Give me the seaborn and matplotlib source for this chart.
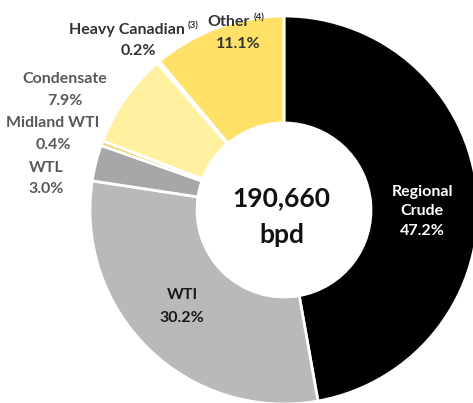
import matplotlib
matplotlib.use("Agg")
import matplotlib.pyplot as plt
import seaborn as sns

sns.set_theme(style="white")
plt.rcParams['font.family'] = ['Lato', 'DejaVu Sans']

# Crude slate (share of throughput, %)
sources = ["Regional Crude", "WTI", "WTL", "Midland WTI", "Condensate", "Heavy Canadian", "Other"]
shares = [47.2, 30.2, 3.0, 0.4, 7.9, 0.2, 11.1]
notes = ["", "", "", "", "", "(3)", "(4)"]
total_bpd = 190660

colors = ["#000000", "#bab9b9", "#a7a7a9", "#e9d66a", "#fff1a0", "#f3df73", "#ffe167"]
text_colors = ["white", "#1a1a1a", "#595959", "#595959", "#595959", "#333333", "#333333"]

H = 403
cx, cy = 284, 210

fig = plt.figure(figsize=(4.73, 4.03), dpi=100)
ax = fig.add_axes([0, 0, 1, 1])
ax.pie(shares, colors=colors, startangle=90, counterclock=False,
       radius=194, center=(cx, H - cy),
       wedgeprops=dict(width=107, edgecolor="white", linewidth=2))
ax.set_xlim(0, 473)
ax.set_ylim(0, H)
ax.set_aspect("equal")
ax.axis("off")

# label anchors in image pixel coords, one per text line
label_pos = {
    "Regional Crude": [(422, 192), (422, 211), (422, 231)],
    "WTI": [(182, 295), (182, 318)],
    "WTL": [(46, 168), (46, 189)],
    "Midland WTI": [(53, 123), (53, 145)],
    "Condensate": [(65, 79), (65, 101)],
    "Heavy Canadian": [(127, 30), (138, 51)],
    "Other": [(229, 22), (238, 44)],
}
fs = 11.5

fig.canvas.draw()
renderer = fig.canvas.get_renderer()
for name, v, note, tc in zip(sources, shares, notes, text_colors):
    pos = label_pos[name]
    lines = name.split(" ") if name == "Regional Crude" else [name]
    lines = lines + [f"{v:.1f}%"]
    texts = []
    for (x, y), s in zip(pos, lines):
        texts.append(ax.text(x, H - y, s, ha="center", va="center", fontsize=fs,
                             fontweight="bold", color=tc))
    if note:
        # small superscript footnote marker after the name
        bb = texts[0].get_window_extent(renderer).transformed(ax.transData.inverted())
        ax.text(bb.x1 + 3, H - pos[0][1] + 4, note, ha="left", va="center",
                fontsize=7, fontweight="bold", color=tc)

ax.text(cx - 3, H - 198, f"{total_bpd:,}", ha="center", va="center",
        fontsize=19, fontweight="bold", color="#111111")
ax.text(cx - 2, H - 235, "bpd", ha="center", va="center",
        fontsize=19, fontweight="bold", color="#111111")

fig.savefig("out.png", dpi=100)
